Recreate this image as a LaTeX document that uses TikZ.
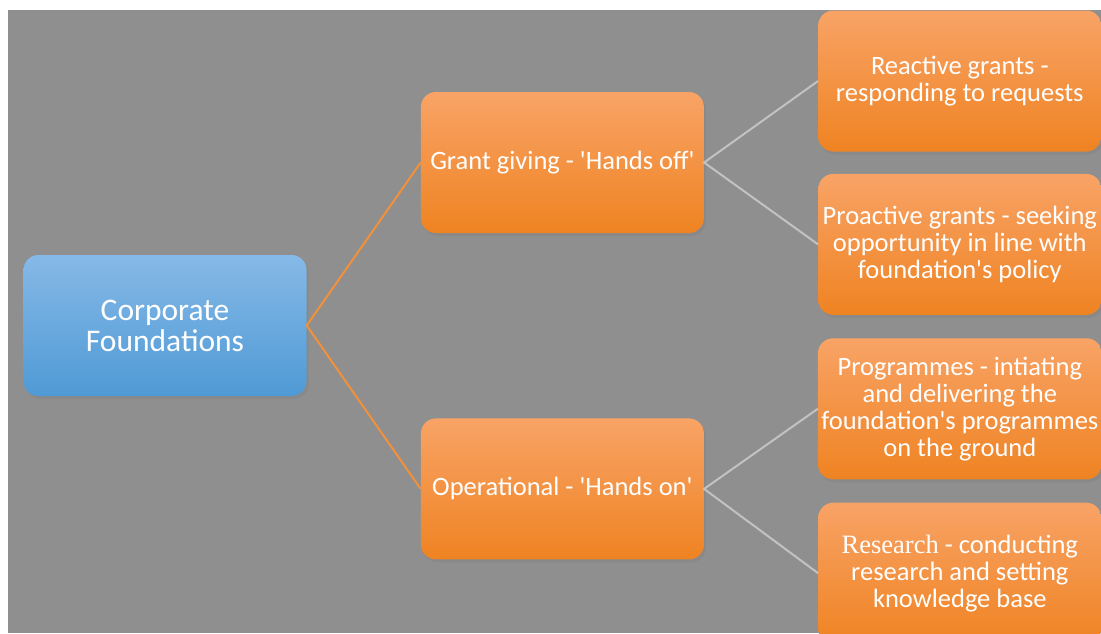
\documentclass[tikz,border=0pt]{standalone}
\usepackage{fontspec}
\setmainfont{Carlito}
\newfontfamily\serifword{Liberation Serif}
\usepackage{tikz}
\usetikzlibrary{positioning, shadows}
\definecolor{canvas}{HTML}{8F8F8F}
\definecolor{orangetop}{HTML}{F8A366}
\definecolor{orangebot}{HTML}{EF8322}
\definecolor{bluetop}{HTML}{86B9E7}
\definecolor{bluebot}{HTML}{4F9AD5}
\definecolor{orangeline}{HTML}{F2913A}
\definecolor{greyline}{HTML}{C2C2C2}

\begin{document}
\begin{tikzpicture}[
    box/.style={rectangle, rounded corners=15pt, minimum width=283pt,
                minimum height=141pt, align=center, text=white,
                font=\fontsize{26.5}{27}\selectfont,
                drop shadow={shadow xshift=2pt, shadow yshift=-3pt, opacity=0.4}},
    rootbox/.style={box, top color=bluetop, bottom color=bluebot,
                font=\fontsize{31.5}{31}\selectfont},
    branchbox/.style={box, top color=orangetop, bottom color=orangebot},
    link/.style={draw=orangeline, line width=2pt},
    sublink/.style={draw=greyline, line width=2pt},
]
    % Page and grey canvas
    \fill[white] (0pt,0pt) rectangle (1101pt,-633pt);
    \fill[canvas] (8pt,-10pt) rectangle (1101pt,-633pt);
    \useasboundingbox (0pt,0pt) rectangle (1101pt,-633pt);

    % Root
    \node[rootbox] (corp) at (165pt,-325.5pt) {Corporate\\Foundations};

    % Middle level
    \node[branchbox, right=114pt of corp, yshift=163pt] (grant)
        {Grant giving - \textquotesingle Hands off\textquotesingle};
    \node[branchbox, below=185pt of grant] (oper)
        {Operational - \textquotesingle Hands on\textquotesingle};

    % Right column
    \node[branchbox, right=114pt of grant, yshift=81.5pt] (reactive)
        {Reactive grants -\\responding to requests};
    \node[branchbox, below=22pt of reactive] (proactive)
        {Proactive grants - seeking\\opportunity in line with\\foundation\textquotesingle s policy};
    \node[branchbox, below=23pt of proactive] (progs)
        {Programmes - intiating\\and delivering the\\foundation\textquotesingle s programmes\\on the ground};
    \node[branchbox, below=23pt of progs] (research)
        {{\serifword Research} - conducting\\research and setting\\knowledge base};

    % Links
    \draw[link] (grant.west) -- (corp.east) -- (oper.west);
    \draw[sublink] (reactive.west) -- (grant.east) -- (proactive.west);
    \draw[sublink] (progs.west) -- (oper.east) -- (research.west);

\end{tikzpicture}
\end{document}
